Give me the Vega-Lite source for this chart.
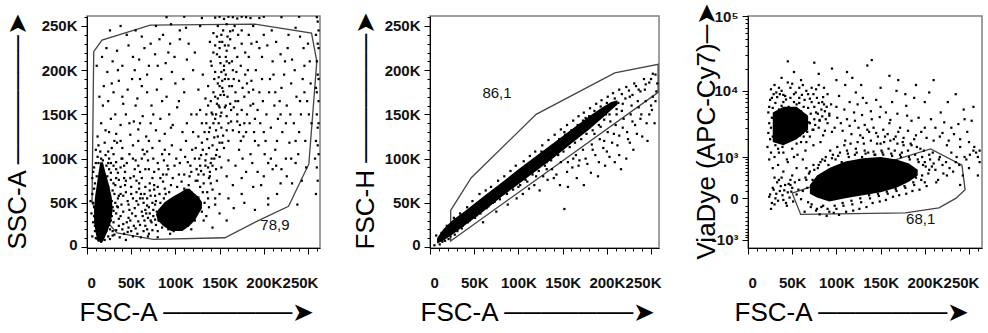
{
"$schema": "https://vega.github.io/schema/vega-lite/v6.json",
"padding": {"left": 3, "top": 1, "right": 0, "bottom": 0},
"spacing": 30,
"config": {
  "font": "Liberation Sans",
  "view": {"stroke": "#808080", "strokeWidth": 1.5},
  "axis": {"grid": false, "domainColor": "black", "domainWidth": 1, "tickColor": "black", "tickWidth": 1,
    "labelFont": "Liberation Sans", "labelFontSize": 15, "labelFontWeight": "bold", "labelColor": "#111",
    "titleFont": "Liberation Sans", "titleFontSize": 26, "titleFontWeight": "normal", "titleColor": "black",
    "labelOverlap": false, "labelFlush": false}
},
"hconcat": [
{
  "width": 233, "height": 232,
  "resolve": {"axis": {"x": "independent", "y": "independent"}},
  "layer": [
    {"data": {"values": [
      {"o":1,"x":7.6,"y":221},{"o":2,"x":17,"y":234},{"o":3,"x":71.6,"y":251},{"o":4,"x":190,"y":252},{"o":5,"x":254,"y":242},{"o":6,"x":260,"y":210},{"o":7,"x":251,"y":94},{"o":8,"x":228,"y":46},{"o":9,"x":192,"y":29},{"o":10,"x":156,"y":10.5},{"o":11,"x":75,"y":8.7},{"o":12,"x":34,"y":16},{"o":13,"x":11.3,"y":40.7},{"o":14,"x":5.7,"y":50},{"o":15,"x":7.6,"y":221}
    ]},
    "mark": {"type": "line", "color": "#444", "strokeWidth": 1.3, "clip": true},
    "encoding": {
      "x": {"field": "x", "type": "quantitative", "scale": {"domain": [0, 263.6], "nice": false, "zero": false},
        "axis": {"orient": "bottom", "title": "FSC-A ───────➤", "values": [0,50,100,150,200,250], "tickSize": 6,
          "labelExpr": "datum.value === 0 ? '0' : datum.value + 'K'",
          "labelOffset": {"condition": {"test": "datum.value === 250", "value": -8}, "value": 0},
          "labelAlign": {"condition": {"test": "datum.value === 0", "value": "left"}, "value": "center"},
          "labelPadding": 21, "titleX": -8, "titleY": 64, "titleAlign": "left", "titleBaseline": "middle", "titleAnchor": "start"}},
      "y": {"field": "y", "type": "quantitative", "scale": {"domain": [-1.1, 261.3], "nice": false, "zero": false},
        "axis": {"orient": "left", "title": "SSC-A ───────➤", "values": [0,50,100,150,200,250], "tickSize": 6,
          "labelExpr": "datum.value === 0 ? '0' : datum.value + 'K'",
          "labelOffset": {"condition": {"test": "datum.value === 0", "value": -3}, "value": 0},
          "labelPadding": 4, "titleX": -70, "titleY": 233, "titleAngle": 270, "titleAlign": "left", "titleBaseline": "middle", "titleAnchor": "start"}},
      "order": {"field": "o", "type": "quantitative"}
    }},
    {"data": {"values": [
      {"x":6,"y":12},{"x":7,"y":28},{"x":8,"y":45},{"x":6,"y":60},{"x":9,"y":72},{"x":7,"y":85},{"x":10,"y":95},{"x":12,"y":102},{"x":15,"y":108},{"x":18,"y":98},{"x":22,"y":92},{"x":25,"y":88},{"x":27,"y":76},{"x":29,"y":64},{"x":28,"y":52},{"x":30,"y":41},{"x":27,"y":30},{"x":26,"y":20},{"x":24,"y":12},{"x":20,"y":8},{"x":16,"y":6},{"x":12,"y":9},{"x":9,"y":18},{"x":11,"y":35},{"x":14,"y":50},{"x":19,"y":66},{"x":23,"y":80},{"x":21,"y":58},{"x":17,"y":42},{"x":13,"y":28},{"x":25,"y":100},{"x":30,"y":105},{"x":33,"y":96},{"x":35,"y":84},{"x":32,"y":70},{"x":36,"y":58},{"x":34,"y":46},{"x":38,"y":35},{"x":36,"y":24},{"x":31,"y":14},{"x":5,"y":38},{"x":4,"y":52},{"x":6,"y":78},{"x":8,"y":90},{"x":13,"y":115},{"x":20,"y":118},{"x":28,"y":112},{"x":40,"y":100},{"x":38,"y":90},{"x":42,"y":78},
      {"x":10,"y":10},{"x":14,"y":14},{"x":18,"y":12},{"x":22,"y":18},{"x":25,"y":25},{"x":28,"y":35},{"x":29,"y":45},{"x":26,"y":58},{"x":24,"y":68},{"x":20,"y":76},{"x":15,"y":85},{"x":11,"y":80},{"x":8,"y":66},{"x":7,"y":50},{"x":8,"y":35},{"x":9,"y":24},{"x":13,"y":95},{"x":17,"y":88},{"x":21,"y":104},{"x":24,"y":95},{"x":27,"y":84},{"x":30,"y":92},{"x":33,"y":78},{"x":31,"y":60},{"x":32,"y":50},{"x":33,"y":38},{"x":30,"y":28},{"x":29,"y":18},{"x":16,"y":100},{"x":10,"y":110},
      {"x":26,"y":9},{"x":29,"y":13},{"x":33,"y":19},{"x":37,"y":11},{"x":41,"y":26},{"x":44,"y":8},{"x":46,"y":17},{"x":49,"y":30},{"x":52,"y":12},{"x":55,"y":21},{"x":58,"y":29},{"x":61,"y":11},{"x":63,"y":35},{"x":66,"y":24},{"x":69,"y":12},{"x":71,"y":38},{"x":74,"y":19},{"x":77,"y":31},{"x":80,"y":11},{"x":82,"y":42},{"x":35,"y":55},{"x":38,"y":68},{"x":41,"y":58},{"x":44,"y":75},{"x":47,"y":48},{"x":50,"y":60},{"x":53,"y":80},{"x":56,"y":52},{"x":59,"y":66},{"x":62,"y":78},{"x":65,"y":60},{"x":68,"y":47},{"x":71,"y":64},{"x":74,"y":78},{"x":77,"y":58},{"x":80,"y":68},{"x":83,"y":50},{"x":86,"y":82},{"x":89,"y":60},{"x":30,"y":72},{"x":33,"y":88},{"x":36,"y":76},{"x":39,"y":100},{"x":27,"y":95},{"x":31,"y":120},{"x":24,"y":108},{"x":42,"y":92},{"x":48,"y":105},{"x":55,"y":98},{"x":62,"y":100},{"x":68,"y":108},{"x":75,"y":100},{"x":81,"y":88},{"x":87,"y":98},{"x":93,"y":105},{"x":99,"y":92},{"x":105,"y":95},{"x":111,"y":102},{"x":117,"y":92},{"x":123,"y":112},
      {"x":40,"y":20},{"x":45,"y":28},{"x":50,"y":18},{"x":55,"y":35},{"x":60,"y":25},{"x":48,"y":42},{"x":52,"y":55},{"x":58,"y":48},{"x":62,"y":40},{"x":65,"y":30},{"x":68,"y":20},{"x":70,"y":45},{"x":72,"y":58},{"x":75,"y":35},{"x":78,"y":25},{"x":44,"y":62},{"x":50,"y":68},{"x":56,"y":62},{"x":63,"y":55},{"x":66,"y":68},{"x":42,"y":15},{"x":47,"y":33},{"x":53,"y":24},{"x":57,"y":15},{"x":61,"y":60},{"x":70,"y":15},{"x":74,"y":50},{"x":79,"y":40},{"x":39,"y":48},{"x":46,"y":52},{"x":36,"y":32},{"x":41,"y":40},{"x":54,"y":44},{"x":64,"y":50},{"x":67,"y":38},{"x":73,"y":28},{"x":76,"y":65},{"x":59,"y":72},{"x":49,"y":78},{"x":43,"y":85},
      {"x":35,"y":45},{"x":38,"y":60},{"x":43,"y":70},{"x":47,"y":22},{"x":51,"y":38},{"x":56,"y":75},{"x":60,"y":55},{"x":64,"y":18},{"x":69,"y":33},{"x":71,"y":72},{"x":77,"y":48},{"x":81,"y":30},{"x":83,"y":78},{"x":87,"y":55},{"x":89,"y":25},{"x":93,"y":62},{"x":97,"y":78},{"x":99,"y":24},{"x":103,"y":58},{"x":107,"y":74},{"x":111,"y":28},{"x":115,"y":70},{"x":119,"y":36},{"x":123,"y":75},{"x":127,"y":48},{"x":131,"y":62},{"x":135,"y":35},{"x":137,"y":55},{"x":139,"y":80},{"x":142,"y":65},{"x":145,"y":48},{"x":132,"y":72},{"x":126,"y":82},{"x":116,"y":80},{"x":104,"y":82},{"x":92,"y":88},{"x":60,"y":85},{"x":54,"y":88},{"x":70,"y":88},
      {"x":72,"y":30},{"x":75,"y":42},{"x":78,"y":52},{"x":82,"y":60},{"x":85,"y":22},{"x":88,"y":66},{"x":92,"y":20},{"x":95,"y":70},{"x":98,"y":18},{"x":102,"y":68},{"x":106,"y":20},{"x":110,"y":66},{"x":114,"y":24},{"x":118,"y":62},{"x":122,"y":30},{"x":126,"y":56},{"x":130,"y":40},{"x":133,"y":50},{"x":128,"y":68},{"x":136,"y":62},{"x":84,"y":35},{"x":90,"y":45},{"x":96,"y":38},{"x":104,"y":42},{"x":112,"y":34},{"x":120,"y":46},{"x":100,"y":28},{"x":108,"y":52},{"x":116,"y":40},{"x":124,"y":38},{"x":80,"y":18},{"x":94,"y":15},{"x":118,"y":20},{"x":132,"y":30},{"x":138,"y":45},{"x":140,"y":72},{"x":86,"y":74},{"x":76,"y":70},{"x":68,"y":55},{"x":66,"y":42},
      {"x":142,"y":22},{"x":150,"y":38},{"x":158,"y":30},{"x":166,"y":44},{"x":178,"y":50},{"x":190,"y":42},{"x":205,"y":48},
      {"x":125,"y":75},{"x":132,"y":82},{"x":138,"y":78},{"x":128,"y":92},{"x":140,"y":95},{"x":146,"y":88},{"x":135,"y":105},{"x":150,"y":102},{"x":142,"y":115},{"x":155,"y":112},{"x":148,"y":125},{"x":160,"y":120},{"x":138,"y":130},{"x":152,"y":135},{"x":165,"y":132},{"x":145,"y":145},{"x":158,"y":148},{"x":170,"y":142},{"x":150,"y":158},{"x":162,"y":162},{"x":175,"y":155},{"x":140,"y":165},{"x":155,"y":172},{"x":168,"y":175},{"x":148,"y":185},{"x":160,"y":190},{"x":172,"y":188},{"x":145,"y":198},{"x":155,"y":205},{"x":165,"y":200},{"x":150,"y":215},{"x":158,"y":222},{"x":145,"y":228},{"x":162,"y":235},{"x":152,"y":240},{"x":170,"y":215},{"x":140,"y":210},{"x":178,"y":170},{"x":185,"y":160},{"x":180,"y":130},{"x":190,"y":120},{"x":172,"y":110},{"x":160,"y":98},{"x":118,"y":85},{"x":122,"y":100},{"x":130,"y":118},{"x":135,"y":140},{"x":128,"y":155},{"x":182,"y":200},{"x":175,"y":230},{"x":165,"y":245},{"x":143,"y":242},{"x":158,"y":252},{"x":190,"y":145},{"x":195,"y":175},{"x":200,"y":130},{"x":185,"y":105},{"x":168,"y":92},
      {"x":127,"y":100},{"x":131,"y":110},{"x":136,"y":122},{"x":139,"y":135},{"x":143,"y":140},{"x":146,"y":150},{"x":149,"y":160},{"x":151,"y":172},{"x":153,"y":188},{"x":155,"y":200},{"x":157,"y":215},{"x":160,"y":228},{"x":162,"y":244},{"x":164,"y":210},{"x":166,"y":190},{"x":168,"y":165},{"x":170,"y":150},{"x":172,"y":130},{"x":174,"y":120},{"x":176,"y":100},{"x":178,"y":140},{"x":181,"y":185},{"x":183,"y":215},{"x":186,"y":230},{"x":188,"y":178},{"x":144,"y":190},{"x":141,"y":205},{"x":139,"y":232},{"x":137,"y":160},{"x":135,"y":150},{"x":133,"y":130},{"x":130,"y":140},{"x":126,"y":125},{"x":124,"y":150},{"x":120,"y":130},{"x":167,"y":250},{"x":171,"y":240},{"x":175,"y":245},{"x":179,"y":220},{"x":150,"y":225},{"x":153,"y":232},{"x":147,"y":238},{"x":159,"y":238},{"x":163,"y":155},{"x":158,"y":132},{"x":154,"y":126},{"x":150,"y":118},{"x":146,"y":104},{"x":142,"y":92},{"x":137,"y":90},
      {"x":146,"y":132},{"x":149,"y":140},{"x":152,"y":152},{"x":148,"y":168},{"x":154,"y":176},{"x":150,"y":182},{"x":156,"y":190},{"x":152,"y":198},{"x":158,"y":210},{"x":151,"y":208},{"x":147,"y":218},{"x":156,"y":228},{"x":150,"y":232},{"x":154,"y":245},{"x":148,"y":250},{"x":143,"y":220},{"x":161,"y":182},{"x":145,"y":170},{"x":142,"y":150},{"x":157,"y":160},{"x":153,"y":118},{"x":147,"y":110},{"x":160,"y":140},{"x":144,"y":124},{"x":138,"y":112},{"x":134,"y":98},{"x":129,"y":86},{"x":141,"y":100},
      {"x":108,"y":130},{"x":113,"y":140},{"x":104,"y":165},{"x":109,"y":190},{"x":113,"y":212},{"x":122,"y":220},{"x":126,"y":178},{"x":131,"y":195},{"x":134,"y":168},{"x":137,"y":182},{"x":141,"y":152},{"x":143,"y":175},{"x":147,"y":162},{"x":149,"y":192},{"x":151,"y":148},{"x":153,"y":180},{"x":156,"y":158},{"x":157,"y":195},{"x":159,"y":170},{"x":161,"y":208},{"x":163,"y":142},{"x":164,"y":182},{"x":166,"y":158},{"x":167,"y":225},{"x":169,"y":198},{"x":171,"y":165},{"x":173,"y":138},{"x":174,"y":205},{"x":176,"y":180},{"x":177,"y":125},{"x":179,"y":195},{"x":181,"y":150},{"x":183,"y":175},{"x":184,"y":140},{"x":186,"y":188},{"x":188,"y":162},{"x":189,"y":130},{"x":191,"y":200},{"x":193,"y":155},{"x":194,"y":115},{"x":196,"y":140},{"x":198,"y":190},{"x":199,"y":165},{"x":201,"y":105},{"x":203,"y":150},{"x":206,"y":175},{"x":208,"y":135},{"x":211,"y":195},{"x":213,"y":110},{"x":216,"y":145},{"x":218,"y":165},{"x":221,"y":130},{"x":224,"y":210},{"x":226,"y":160},{"x":229,"y":118},{"x":231,"y":185},{"x":234,"y":140},{"x":237,"y":170},{"x":239,"y":105},{"x":242,"y":150},{"x":244,"y":190},{"x":247,"y":120},{"x":249,"y":165},{"x":252,"y":210},{"x":254,"y":140},{"x":248,"y":90},{"x":243,"y":75},{"x":236,"y":95},{"x":226,"y":80},{"x":219,"y":72},{"x":210,"y":88},{"x":197,"y":70},{"x":188,"y":68},{"x":180,"y":85},{"x":175,"y":78},{"x":165,"y":70},{"x":158,"y":80},{"x":152,"y":90},{"x":147,"y":75},{"x":144,"y":100},{"x":139,"y":85},{"x":134,"y":92},{"x":129,"y":104},{"x":124,"y":88},{"x":119,"y":110},{"x":114,"y":96},{"x":110,"y":82},{"x":150,"y":60},{"x":160,"y":55},{"x":145,"y":55},{"x":175,"y":60},
      {"x":183,"y":240},{"x":192,"y":232},{"x":198,"y":215},{"x":204,"y":228},{"x":209,"y":245},{"x":214,"y":232},{"x":219,"y":218},{"x":223,"y":195},{"x":227,"y":225},{"x":232,"y":212},{"x":236,"y":248},{"x":241,"y":238},{"x":246,"y":205},{"x":250,"y":230},{"x":253,"y":185},{"x":207,"y":190},{"x":213,"y":175},{"x":219,"y":150},{"x":225,"y":140},{"x":231,"y":100},{"x":236,"y":120},{"x":241,"y":165},{"x":246,"y":175},{"x":251,"y":150},{"x":187,"y":95},{"x":193,"y":85},{"x":202,"y":120},{"x":208,"y":100},{"x":214,"y":92},{"x":220,"y":88},
      {"x":12,"y":125},{"x":16,"y":140},{"x":21,"y":132},{"x":27,"y":145},{"x":33,"y":128},{"x":38,"y":138},{"x":44,"y":150},{"x":49,"y":127},{"x":53,"y":142},{"x":58,"y":133},{"x":63,"y":148},{"x":67,"y":125},{"x":72,"y":140},{"x":78,"y":132},{"x":83,"y":145},{"x":88,"y":128},{"x":93,"y":150},{"x":97,"y":138},
      {"x":14,"y":170},{"x":19,"y":182},{"x":24,"y":165},{"x":30,"y":175},{"x":36,"y":188},{"x":41,"y":162},{"x":46,"y":178},{"x":51,"y":190},{"x":57,"y":168},{"x":62,"y":182},{"x":68,"y":195},{"x":73,"y":160},{"x":79,"y":178},{"x":84,"y":190},{"x":90,"y":170},{"x":96,"y":198},
      {"x":11,"y":205},{"x":17,"y":215},{"x":23,"y":198},{"x":29,"y":210},{"x":34,"y":222},{"x":40,"y":205},{"x":47,"y":228},{"x":54,"y":200},{"x":59,"y":212},{"x":65,"y":225},{"x":70,"y":205},{"x":77,"y":218},{"x":82,"y":235},{"x":89,"y":208},{"x":94,"y":230},{"x":99,"y":215},
      {"x":26,"y":245},{"x":38,"y":250},{"x":55,"y":245},{"x":62,"y":238},{"x":78,"y":250},{"x":95,"y":252},{"x":105,"y":235},{"x":112,"y":248},
      {"x":45,"y":95},{"x":52,"y":100},{"x":58,"y":92},{"x":63,"y":110},{"x":69,"y":98},{"x":74,"y":112},{"x":80,"y":95},{"x":85,"y":105},{"x":91,"y":92},{"x":96,"y":115},{"x":101,"y":100},{"x":106,"y":110},{"x":52,"y":115},{"x":40,"y":112},{"x":34,"y":118},{"x":58,"y":120},{"x":82,"y":120},{"x":66,"y":88},{"x":76,"y":85},{"x":90,"y":82},
      {"x":25,"y":130},{"x":32,"y":150},{"x":40,"y":170},{"x":35,"y":200},{"x":22,"y":225},{"x":48,"y":140},{"x":55,"y":160},{"x":60,"y":190},{"x":52,"y":215},{"x":45,"y":240},{"x":70,"y":120},{"x":75,"y":150},{"x":68,"y":175},{"x":80,"y":205},{"x":72,"y":230},{"x":88,"y":110},{"x":95,"y":135},{"x":85,"y":165},{"x":100,"y":185},{"x":92,"y":220},{"x":105,"y":245},{"x":112,"y":120},{"x":118,"y":150},{"x":110,"y":175},{"x":120,"y":200},{"x":115,"y":230},{"x":128,"y":250},{"x":200,"y":240},{"x":210,"y":210},{"x":220,"y":180},{"x":230,"y":150},{"x":215,"y":120},{"x":205,"y":95},{"x":225,"y":100},{"x":240,"y":130},{"x":235,"y":200},{"x":245,"y":225},{"x":212,"y":160},{"x":228,"y":240},{"x":195,"y":225},{"x":188,"y":250},{"x":60,"y":140},{"x":38,"y":120},{"x":18,"y":160},{"x":28,"y":185},{"x":65,"y":105},{"x":102,"y":158},{"x":86,"y":240},{"x":232,"y":72},{"x":215,"y":60},{"x":238,"y":48},{"x":200,"y":80},{"x":205,"y":55},
      {"x":259,"y":60},{"x":261,"y":75},{"x":260,"y":90},{"x":262,"y":105},{"x":259,"y":120},{"x":261,"y":135},{"x":260,"y":150},{"x":262,"y":165},{"x":259,"y":180},{"x":261,"y":195},{"x":260,"y":210},{"x":262,"y":225},{"x":259,"y":240},{"x":261,"y":255},{"x":260,"y":260},{"x":258,"y":100},{"x":262,"y":190},{"x":261,"y":230},{"x":262,"y":140},{"x":260,"y":175},{"x":262,"y":245},{"x":261,"y":115},
      {"x":90,"y":260},{"x":110,"y":260.5},{"x":130,"y":259},{"x":150,"y":260.5},{"x":165,"y":260},{"x":175,"y":260.5},{"x":185,"y":259},{"x":200,"y":260.5},{"x":220,"y":260},{"x":240,"y":260.5},{"x":155,"y":258},{"x":170,"y":258.5},{"x":145,"y":259.5},{"x":160,"y":260.5},{"x":180,"y":260},{"x":195,"y":259}
    ]},
    "mark": {"type": "square", "size": 5, "color": "black", "opacity": 1, "clip": true},
    "encoding": {
      "x": {"field": "x", "type": "quantitative", "axis": {"orient": "bottom", "values": [10,20,30,40,60,70,80,90,110,120,130,140,160,170,180,190,210,220,230,240,260], "tickSize": 3, "labels": false, "domain": false, "title": null}},
      "y": {"field": "y", "type": "quantitative", "axis": {"orient": "left", "values": [10,20,30,40,60,70,80,90,110,120,130,140,160,170,180,190,210,220,230,240,260], "tickSize": 3, "labels": false, "domain": false, "title": null}}}},
    {"data": {"values": [
      {"g":1,"y":6,"a":12,"b":18},{"g":1,"y":15,"a":10,"b":22},{"g":1,"y":28,"a":8,"b":27},{"g":1,"y":42,"a":8,"b":29},{"g":1,"y":56,"a":9,"b":28},{"g":1,"y":70,"a":11,"b":25},{"g":1,"y":84,"a":13,"b":21},{"g":1,"y":96,"a":15,"b":18},
      {"g":2,"y":18,"a":95,"b":108},{"g":2,"y":24,"a":86,"b":116},{"g":2,"y":30,"a":80,"b":122},{"g":2,"y":37,"a":78,"b":126},{"g":2,"y":44,"a":82,"b":130},{"g":2,"y":51,"a":88,"b":130},{"g":2,"y":57,"a":97,"b":126},{"g":2,"y":62,"a":106,"b":120},{"g":2,"y":66,"a":112,"b":116}
    ]},
    "mark": {"type": "area", "orient": "horizontal", "color": "black", "opacity": 1, "clip": true},
    "encoding": {"y": {"field": "y", "type": "quantitative", "axis": null}, "x": {"field": "a", "type": "quantitative", "axis": null}, "x2": {"field": "b"}, "detail": {"field": "g"}}},
    {"data": {"values": [{"x":212.6,"y":25.4,"t":"78,9"}]},
    "mark": {"type": "text", "fontSize": 15, "font": "Liberation Sans", "color": "#111"},
    "encoding": {"x": {"field": "x", "type": "quantitative", "axis": null}, "y": {"field": "y", "type": "quantitative", "axis": null}, "text": {"field": "t"}}}
  ]
},
{
  "width": 229, "height": 232,
  "resolve": {"axis": {"x": "independent", "y": "independent"}},
  "layer": [
    {"data": {"values": [
      {"o":1,"x":23.4,"y":41.5},{"o":2,"x":46.7,"y":78.4},{"o":3,"x":120,"y":150},{"o":4,"x":209,"y":197},{"o":5,"x":258,"y":206.6},{"o":6,"x":258,"y":175},{"o":7,"x":23.4,"y":6.8},{"o":8,"x":23.4,"y":41.5}
    ]},
    "mark": {"type": "line", "color": "#444", "strokeWidth": 1.3, "clip": true},
    "encoding": {
      "x": {"field": "x", "type": "quantitative", "scale": {"domain": [0, 259], "nice": false, "zero": false},
        "axis": {"orient": "bottom", "title": "FSC-A ───────➤", "values": [0,50,100,150,200,250], "tickSize": 6,
          "labelExpr": "datum.value === 0 ? '0' : datum.value + 'K'",
          "labelOffset": {"condition": {"test": "datum.value === 250", "value": -8}, "value": 0},
          "labelAlign": {"condition": {"test": "datum.value === 0", "value": "left"}, "value": "center"},
          "labelPadding": 21, "titleX": -10, "titleY": 64, "titleAlign": "left", "titleBaseline": "middle", "titleAnchor": "start"}},
      "y": {"field": "y", "type": "quantitative", "scale": {"domain": [-1.1, 261.3], "nice": false, "zero": false},
        "axis": {"orient": "left", "title": "FSC-H ───────➤", "values": [0,50,100,150,200,250], "tickSize": 6,
          "labelExpr": "datum.value === 0 ? '0' : datum.value + 'K'",
          "labelOffset": {"condition": {"test": "datum.value === 0", "value": -3}, "value": 0},
          "labelPadding": 4, "titleX": -65, "titleY": 233, "titleAngle": 270, "titleAlign": "left", "titleBaseline": "middle", "titleAnchor": "start"}},
      "order": {"field": "o", "type": "quantitative"}
    }},
    {"data": {"values": [
      {"x":5,"y":2},{"x":7,"y":13},{"x":11,"y":3},{"x":13,"y":16},{"x":17,"y":7},{"x":19,"y":24},{"x":23,"y":12},{"x":27,"y":33},{"x":31,"y":18},{"x":34,"y":38},{"x":37,"y":24},{"x":42,"y":45},{"x":45,"y":30},{"x":48,"y":52},{"x":53,"y":36},{"x":56,"y":60},{"x":58,"y":41},{"x":63,"y":64},{"x":66,"y":46},{"x":69,"y":68},{"x":73,"y":51},{"x":77,"y":75},{"x":79,"y":54},{"x":84,"y":80},{"x":87,"y":60},{"x":91,"y":86},{"x":94,"y":65},{"x":97,"y":92},{"x":102,"y":70},{"x":106,"y":97},{"x":108,"y":76},{"x":113,"y":103},{"x":116,"y":82},{"x":119,"y":108},{"x":123,"y":86},{"x":127,"y":115},{"x":130,"y":92},{"x":134,"y":121},{"x":137,"y":98},{"x":141,"y":127},{"x":145,"y":104},{"x":148,"y":133},{"x":151,"y":108},{"x":155,"y":138},{"x":158,"y":113},{"x":162,"y":143},{"x":164,"y":118},{"x":168,"y":148},{"x":171,"y":122},{"x":174,"y":152},{"x":177,"y":128},{"x":181,"y":157},{"x":184,"y":132},{"x":188,"y":162},{"x":191,"y":138},{"x":194,"y":166},{"x":197,"y":144},{"x":201,"y":170},{"x":203,"y":150},{"x":207,"y":174},{"x":211,"y":156},{"x":214,"y":178},{"x":218,"y":162},{"x":222,"y":181},{"x":226,"y":170},{"x":231,"y":185},{"x":236,"y":178},{"x":242,"y":190},{"x":248,"y":186},{"x":252,"y":196},{"x":44,"y":39},{"x":71,"y":60},{"x":99,"y":84},{"x":126,"y":108},{"x":152,"y":130},{"x":176,"y":146},{"x":30,"y":20},{"x":62,"y":45},{"x":96,"y":72},{"x":132,"y":96},{"x":166,"y":124},{"x":199,"y":150},
      {"x":10,"y":8},{"x":14,"y":6},{"x":18,"y":16},{"x":21,"y":9},{"x":24,"y":22},{"x":28,"y":14},{"x":32,"y":28},{"x":36,"y":21},{"x":39,"y":35},{"x":43,"y":28},{"x":47,"y":40},{"x":51,"y":33},{"x":54,"y":47},{"x":57,"y":38},{"x":61,"y":53},{"x":64,"y":44},{"x":67,"y":58},{"x":71,"y":50},{"x":74,"y":63},{"x":78,"y":56},{"x":81,"y":68},{"x":86,"y":62},{"x":89,"y":75},{"x":93,"y":68},{"x":96,"y":80},{"x":100,"y":73},{"x":104,"y":86},{"x":107,"y":80},{"x":111,"y":92},{"x":114,"y":85},{"x":117,"y":98},{"x":121,"y":92},{"x":124,"y":104},{"x":129,"y":98},{"x":133,"y":110},{"x":136,"y":104},{"x":139,"y":115},{"x":143,"y":110},{"x":146,"y":122},{"x":150,"y":115},{"x":153,"y":127},{"x":157,"y":121},{"x":160,"y":132},{"x":163,"y":126},{"x":167,"y":138},{"x":170,"y":131},{"x":173,"y":143},{"x":176,"y":137},{"x":180,"y":148},{"x":183,"y":143},{"x":186,"y":154},{"x":190,"y":149},{"x":193,"y":159},{"x":196,"y":153},{"x":200,"y":163},{"x":204,"y":158},{"x":209,"y":168},{"x":213,"y":163},{"x":217,"y":173},{"x":221,"y":168},{"x":225,"y":177},{"x":229,"y":172},{"x":233,"y":182},{"x":238,"y":176},{"x":244,"y":184},{"x":250,"y":190},{"x":255,"y":195},
      {"x":60,"y":28},{"x":75,"y":40},{"x":88,"y":48},{"x":98,"y":55},{"x":105,"y":60},{"x":112,"y":66},{"x":118,"y":70},{"x":124,"y":64},{"x":128,"y":80},{"x":133,"y":76},{"x":138,"y":88},{"x":143,"y":82},{"x":147,"y":70},{"x":152,"y":43},{"x":156,"y":96},{"x":161,"y":90},{"x":165,"y":104},{"x":169,"y":98},{"x":173,"y":110},{"x":178,"y":94},{"x":183,"y":116},{"x":187,"y":104},{"x":192,"y":122},{"x":196,"y":112},{"x":201,"y":130},{"x":206,"y":118},{"x":210,"y":138},{"x":214,"y":126},{"x":219,"y":145},{"x":223,"y":130},{"x":227,"y":150},{"x":232,"y":138},{"x":236,"y":158},{"x":240,"y":125},{"x":244,"y":165},{"x":248,"y":150},{"x":252,"y":170},{"x":256,"y":176},{"x":230,"y":110},{"x":222,"y":100},{"x":246,"y":120},{"x":254,"y":140},{"x":214,"y":104},{"x":198,"y":92},{"x":182,"y":84},{"x":166,"y":78},{"x":250,"y":160},{"x":238,"y":145},{"x":226,"y":118},{"x":209,"y":96},{"x":190,"y":80},{"x":257,"y":185},{"x":243,"y":178},{"x":235,"y":165},{"x":174,"y":70},{"x":156,"y":68},{"x":200,"y":108},{"x":216,"y":88},
      {"x":132,"y":88},{"x":140,"y":78},{"x":148,"y":96},{"x":155,"y":85},{"x":162,"y":100},{"x":168,"y":92},{"x":176,"y":100},{"x":184,"y":110},{"x":191,"y":96},{"x":197,"y":120},{"x":203,"y":102},{"x":208,"y":128},{"x":212,"y":115},{"x":218,"y":135},{"x":224,"y":122},{"x":229,"y":142},{"x":234,"y":128},{"x":239,"y":150},{"x":245,"y":140},{"x":251,"y":155},{"x":255,"y":165},{"x":186,"y":128},{"x":193,"y":136},{"x":204,"y":142},{"x":211,"y":150},{"x":217,"y":154},{"x":228,"y":160},{"x":120,"y":80},{"x":110,"y":74},{"x":100,"y":68}
    ]},
    "mark": {"type": "square", "size": 5, "color": "black", "opacity": 1, "clip": true},
    "encoding": {
      "x": {"field": "x", "type": "quantitative", "axis": {"orient": "bottom", "values": [10,20,30,40,60,70,80,90,110,120,130,140,160,170,180,190,210,220,230,240], "tickSize": 3, "labels": false, "domain": false, "title": null}},
      "y": {"field": "y", "type": "quantitative", "axis": {"orient": "left", "values": [10,20,30,40,60,70,80,90,110,120,130,140,160,170,180,190,210,220,230,240,260], "tickSize": 3, "labels": false, "domain": false, "title": null}}}},
    {"data": {"values": [
      {"x":8,"a":4,"b":10},{"x":15,"a":7,"b":20},{"x":25,"a":14,"b":30},{"x":40,"a":25,"b":41},{"x":60,"a":40,"b":57},{"x":80,"a":56,"b":72},{"x":100,"a":71,"b":88},{"x":120,"a":86,"b":103},{"x":140,"a":101,"b":118},{"x":160,"a":117,"b":133},{"x":180,"a":133,"b":148},{"x":195,"a":146,"b":158},{"x":205,"a":155,"b":164},{"x":212,"a":161,"b":166}
    ]},
    "mark": {"type": "area", "color": "black", "opacity": 1, "clip": true},
    "encoding": {"x": {"field": "x", "type": "quantitative", "axis": null}, "y": {"field": "a", "type": "quantitative", "axis": null}, "y2": {"field": "b"}}},
    {"data": {"values": [{"x":75.8,"y":174.7,"t":"86,1"}]},
    "mark": {"type": "text", "fontSize": 15, "font": "Liberation Sans", "color": "#111"},
    "encoding": {"x": {"field": "x", "type": "quantitative", "axis": null}, "y": {"field": "y", "type": "quantitative", "axis": null}, "text": {"field": "t"}}}
  ]
},
{
  "width": 234, "height": 232,
  "resolve": {"axis": {"x": "independent", "y": "independent"}},
  "layer": [
    {"data": {"values": [
      {"o":1,"x":50,"y":68},{"o":2,"x":59.6,"y":-250},{"o":3,"x":178,"y":-220},{"o":4,"x":216,"y":-134},{"o":5,"x":235,"y":0},{"o":6,"x":245.6,"y":118},{"o":7,"x":242,"y":693},{"o":8,"x":206.6,"y":1393},{"o":9,"x":110.5,"y":411},{"o":10,"x":50,"y":68}
    ]},
    "mark": {"type": "line", "color": "#444", "strokeWidth": 1.3, "clip": true},
    "encoding": {
      "x": {"field": "x", "type": "quantitative", "scale": {"domain": [0, 264.7], "nice": false, "zero": false},
        "axis": {"orient": "bottom", "title": "FSC-A ───────➤", "values": [0,50,100,150,200,250], "tickSize": 6,
          "labelExpr": "datum.value === 0 ? '0' : datum.value + 'K'",
          "labelOffset": {"condition": {"test": "datum.value === 250", "value": -8}, "value": 0},
          "labelAlign": {"condition": {"test": "datum.value === 0", "value": "left"}, "value": "center"},
          "labelPadding": 21, "titleX": -14, "titleY": 64, "titleAlign": "left", "titleBaseline": "middle", "titleAnchor": "start"}},
      "y": {"field": "y", "type": "quantitative", "scale": {"type": "symlog", "constant": 400, "domain": [-1400, 100000], "nice": false, "zero": false},
        "axis": {"orient": "left", "title": "ViaDye (APC-Cy7)─➤", "values": [-1000, 0, 1000, 10000, 100000], "tickSize": 6,
          "labelExpr": "datum.value === 100000 ? '10⁵' : datum.value === 10000 ? '10⁴' : datum.value === 1000 ? '10³' : datum.value === 0 ? '0' : '-10³'",
          "labelPadding": 4, "titleX": -42, "titleY": 243, "titleAngle": 270, "titleAlign": "left", "titleBaseline": "middle", "titleAnchor": "start"}},
      "order": {"field": "o", "type": "quantitative"}
    }},
    {"data": {"values": [
      {"x":62,"y":100},{"x":65,"y":350},{"x":68,"y":-50},{"x":70,"y":500},{"x":74,"y":700},{"x":78,"y":-150},{"x":82,"y":800},{"x":85,"y":-100},{"x":88,"y":1000},{"x":92,"y":-200},{"x":96,"y":1100},{"x":100,"y":-150},{"x":104,"y":1200},{"x":108,"y":-100},{"x":112,"y":1300},{"x":118,"y":-80},{"x":122,"y":1400},{"x":128,"y":-50},{"x":132,"y":1300},{"x":138,"y":0},{"x":142,"y":1250},{"x":148,"y":30},{"x":152,"y":1200},{"x":158,"y":60},{"x":162,"y":1150},{"x":168,"y":100},{"x":172,"y":1100},{"x":178,"y":150},{"x":182,"y":1000},{"x":188,"y":200},{"x":192,"y":900},{"x":196,"y":300},{"x":200,"y":800},{"x":204,"y":450},{"x":208,"y":650},{"x":212,"y":550},{"x":216,"y":900},{"x":220,"y":700},{"x":225,"y":400},{"x":230,"y":1200},{"x":235,"y":800},{"x":240,"y":1500},{"x":245,"y":1000},{"x":250,"y":1800},{"x":255,"y":1300},{"x":215,"y":300},{"x":205,"y":1100},{"x":195,"y":1400},{"x":185,"y":1600},{"x":175,"y":1800},{"x":165,"y":2000},{"x":155,"y":2200},{"x":145,"y":2500},{"x":135,"y":2800},{"x":125,"y":3000},{"x":115,"y":3200},{"x":105,"y":3500},{"x":95,"y":2600},{"x":85,"y":2300},{"x":110,"y":1900},{"x":130,"y":2100},{"x":150,"y":1700},{"x":170,"y":2600},{"x":190,"y":2300},{"x":210,"y":1900},{"x":140,"y":4000},{"x":160,"y":3500},{"x":120,"y":5000},{"x":100,"y":6000},{"x":130,"y":8000},{"x":90,"y":9000},{"x":110,"y":12000},{"x":150,"y":6000},{"x":180,"y":4500},{"x":200,"y":3000},{"x":220,"y":2500},{"x":240,"y":2000},{"x":178,"y":9000},{"x":200,"y":7000},{"x":235,"y":9000},{"x":255,"y":6000},{"x":210,"y":14000},{"x":118,"y":15000},{"x":95,"y":20000},{"x":80,"y":17000},{"x":135,"y":22000},{"x":45,"y":25000},{"x":60,"y":14000},{"x":150,"y":11000},
      {"x":66,"y":300},{"x":69,"y":450},{"x":72,"y":-80},{"x":75,"y":550},{"x":77,"y":-180},{"x":80,"y":700},{"x":83,"y":-120},{"x":87,"y":850},{"x":90,"y":-150},{"x":95,"y":950},{"x":98,"y":-100},{"x":102,"y":1050},{"x":107,"y":-60},{"x":113,"y":1150},{"x":117,"y":-30},{"x":123,"y":1200},{"x":127,"y":0},{"x":133,"y":1150},{"x":137,"y":40},{"x":143,"y":1100},{"x":147,"y":60},{"x":153,"y":1100},{"x":157,"y":90},{"x":163,"y":1050},{"x":167,"y":130},{"x":173,"y":1000},{"x":177,"y":180},{"x":183,"y":900},{"x":187,"y":250},{"x":193,"y":800},{"x":197,"y":400},{"x":201,"y":650},{"x":205,"y":550},{"x":190,"y":350},{"x":198,"y":700},{"x":85,"y":380},{"x":88,"y":120},{"x":180,"y":600},{"x":200,"y":250},{"x":210,"y":750},
      {"x":64,"y":-200},{"x":67,"y":150},{"x":71,"y":-120},{"x":73,"y":300},{"x":76,"y":50},{"x":79,"y":600},{"x":81,"y":-250},{"x":84,"y":900},{"x":86,"y":200},{"x":89,"y":-280},{"x":91,"y":700},{"x":93,"y":1300},{"x":97,"y":-220},{"x":99,"y":900},{"x":101,"y":1500},{"x":103,"y":-260},{"x":106,"y":800},{"x":109,"y":1600},{"x":111,"y":-200},{"x":114,"y":1000},{"x":116,"y":1700},{"x":119,"y":-180},{"x":121,"y":1100},{"x":124,"y":1800},{"x":126,"y":-150},{"x":129,"y":1000},{"x":131,"y":1700},{"x":134,"y":-120},{"x":136,"y":1200},{"x":139,"y":1900},{"x":141,"y":-60},{"x":144,"y":1100},{"x":146,"y":1700},{"x":149,"y":-40},{"x":151,"y":1300},{"x":154,"y":1800},{"x":156,"y":-20},{"x":159,"y":1400},{"x":161,"y":1900},{"x":164,"y":20},{"x":166,"y":1300},{"x":169,"y":1700},{"x":171,"y":40},{"x":174,"y":1200},{"x":176,"y":1600},{"x":179,"y":60},{"x":181,"y":1300},{"x":184,"y":1700},{"x":186,"y":100},{"x":189,"y":1100},{"x":191,"y":1500},{"x":194,"y":120},{"x":197,"y":1000},{"x":199,"y":1300},{"x":202,"y":180},{"x":206,"y":900},{"x":209,"y":1200},{"x":213,"y":250},{"x":217,"y":1000},{"x":221,"y":450},{"x":224,"y":800},{"x":228,"y":600},{"x":232,"y":500},{"x":236,"y":1000},{"x":239,"y":700},{"x":243,"y":400},{"x":247,"y":900},{"x":251,"y":1100},{"x":256,"y":1500},{"x":260,"y":1000},{"x":262,"y":1300},
      {"x":62,"y":2500},{"x":66,"y":1800},{"x":70,"y":3500},{"x":74,"y":2800},{"x":77,"y":5000},{"x":81,"y":3800},{"x":84,"y":7000},{"x":87,"y":2700},{"x":92,"y":4500},{"x":94,"y":6500},{"x":98,"y":3000},{"x":101,"y":4200},{"x":103,"y":8500},{"x":107,"y":2700},{"x":109,"y":5500},{"x":112,"y":4000},{"x":115,"y":7000},{"x":117,"y":2400},{"x":121,"y":3800},{"x":124,"y":6500},{"x":127,"y":2300},{"x":129,"y":4600},{"x":132,"y":3300},{"x":134,"y":6800},{"x":137,"y":2600},{"x":139,"y":5200},{"x":142,"y":3000},{"x":145,"y":7500},{"x":147,"y":2200},{"x":149,"y":4300},{"x":153,"y":2800},{"x":156,"y":5000},{"x":158,"y":2400},{"x":161,"y":3900},{"x":163,"y":7000},{"x":167,"y":2200},{"x":169,"y":4800},{"x":172,"y":3000},{"x":176,"y":2100},{"x":179,"y":6200},{"x":181,"y":2700},{"x":185,"y":3800},{"x":188,"y":2000},{"x":193,"y":4200},{"x":196,"y":2600},{"x":202,"y":2100},{"x":207,"y":4000},{"x":212,"y":3000},{"x":217,"y":2200},{"x":222,"y":3600},{"x":227,"y":1900},{"x":233,"y":2400},{"x":238,"y":3400},{"x":248,"y":2600},{"x":253,"y":3800},{"x":226,"y":7000},{"x":244,"y":5500},{"x":188,"y":8000},{"x":168,"y":10000},{"x":122,"y":9500},{"x":100,"y":14000},{"x":86,"y":11000},{"x":112,"y":18000},{"x":75,"y":24000},{"x":52,"y":18000},{"x":38,"y":15000},
      {"x":25,"y":50},{"x":28,"y":150},{"x":30,"y":-80},{"x":33,"y":250},{"x":36,"y":100},{"x":40,"y":-20},{"x":42,"y":200},{"x":45,"y":80},{"x":48,"y":300},{"x":26,"y":-150},{"x":31,"y":0},{"x":38,"y":350},{"x":44,"y":-100},{"x":50,"y":150},{"x":55,"y":50},
      {"x":24,"y":20},{"x":27,"y":-60},{"x":29,"y":120},{"x":32,"y":60},{"x":34,"y":-30},{"x":37,"y":180},{"x":39,"y":40},{"x":41,"y":110},{"x":43,"y":-60},{"x":46,"y":220},{"x":47,"y":10},{"x":49,"y":90},{"x":51,"y":-40},{"x":53,"y":250},{"x":57,"y":120},{"x":60,"y":-10},{"x":35,"y":300},{"x":30,"y":350},
      {"x":24,"y":900},{"x":26,"y":3000},{"x":23,"y":5000},{"x":27,"y":8000},{"x":30,"y":1000},{"x":32,"y":9500},{"x":35,"y":2000},{"x":38,"y":10000},{"x":40,"y":1200},{"x":42,"y":8500},{"x":45,"y":3500},{"x":48,"y":11000},{"x":50,"y":1400},{"x":52,"y":9000},{"x":55,"y":2500},{"x":58,"y":8000},{"x":60,"y":1800},{"x":63,"y":6000},{"x":66,"y":3000},{"x":68,"y":9000},{"x":70,"y":2200},{"x":72,"y":7000},{"x":75,"y":4000},{"x":78,"y":8000},{"x":80,"y":3000},{"x":83,"y":5500},{"x":86,"y":6500},{"x":88,"y":4000},{"x":90,"y":3500},{"x":28,"y":600},{"x":34,"y":700},{"x":44,"y":900},{"x":56,"y":1100},{"x":65,"y":1300},{"x":74,"y":1600},{"x":82,"y":1800},{"x":62,"y":12000},{"x":72,"y":11000},{"x":45,"y":13000},{"x":30,"y":12000},{"x":40,"y":7000},{"x":55,"y":6500},{"x":25,"y":2000},{"x":35,"y":4500},{"x":60,"y":4000},
      {"x":22,"y":1500},{"x":23,"y":2500},{"x":24,"y":3500},{"x":24,"y":6000},{"x":25,"y":7500},{"x":26,"y":1200},{"x":27,"y":4200},{"x":28,"y":2200},{"x":28,"y":5800},{"x":29,"y":9000},{"x":30,"y":3000},{"x":31,"y":1600},{"x":31,"y":6800},{"x":32,"y":4000},{"x":33,"y":2600},{"x":33,"y":8200},{"x":34,"y":1400},{"x":35,"y":5500},{"x":36,"y":3200},{"x":36,"y":9000},{"x":37,"y":2100},{"x":38,"y":6200},{"x":39,"y":4300},{"x":39,"y":1500},{"x":40,"y":8800},{"x":41,"y":2800},{"x":42,"y":5000},{"x":43,"y":3700},{"x":43,"y":7600},{"x":44,"y":1900},{"x":46,"y":6000},{"x":46,"y":2400},{"x":47,"y":4600},{"x":48,"y":8000},{"x":49,"y":3000},{"x":50,"y":5400},{"x":51,"y":2100},{"x":52,"y":7000},{"x":53,"y":3800},{"x":54,"y":9500},{"x":55,"y":1700},{"x":56,"y":4800},{"x":57,"y":3000},{"x":58,"y":6800},{"x":59,"y":2300},{"x":60,"y":5200},{"x":61,"y":8800},{"x":62,"y":3500},{"x":63,"y":2200},{"x":64,"y":7500},{"x":65,"y":4500},{"x":66,"y":10000},{"x":67,"y":2600},{"x":68,"y":5800},{"x":69,"y":3600},{"x":70,"y":7800},{"x":71,"y":4800},{"x":73,"y":2800},{"x":74,"y":9000},{"x":75,"y":6000},{"x":76,"y":3300},{"x":77,"y":10500},{"x":79,"y":4800},{"x":80,"y":6800},{"x":81,"y":3900},{"x":84,"y":4400},{"x":85,"y":8200},{"x":87,"y":5200},{"x":89,"y":6000},{"x":92,"y":4800},{"x":26,"y":10500},{"x":35,"y":11000},{"x":50,"y":12500},{"x":58,"y":11000},{"x":80,"y":12000},
      {"x":40,"y":500},{"x":45,"y":800},{"x":50,"y":400},{"x":55,"y":600},{"x":58,"y":300},{"x":62,"y":900},{"x":35,"y":1200},{"x":52,"y":1000},{"x":48,"y":200},{"x":66,"y":600},
      {"x":230,"y":3000},{"x":245,"y":4000},{"x":258,"y":1200},{"x":262,"y":800},{"x":260,"y":400},{"x":250,"y":600},{"x":240,"y":200},{"x":225,"y":1600},{"x":218,"y":5000},{"x":205,"y":9500},{"x":190,"y":12000},{"x":170,"y":14000},{"x":160,"y":16000},{"x":140,"y":26000},{"x":128,"y":12000}
    ]},
    "mark": {"type": "square", "size": 5, "color": "black", "opacity": 1, "clip": true},
    "encoding": {
      "x": {"field": "x", "type": "quantitative", "axis": {"orient": "bottom", "values": [10,20,30,40,60,70,80,90,110,120,130,140,160,170,180,190,210,220,230,240,260], "tickSize": 3, "labels": false, "domain": false, "title": null}},
      "y": {"field": "y", "type": "quantitative", "axis": {"orient": "left", "values": [-900,-800,-700,-600,-500,-400,-300,-200,-100,100,200,300,400,500,600,700,800,900,2000,3000,4000,5000,6000,7000,8000,9000,20000,30000,40000,50000,60000,70000,80000,90000], "tickSize": 3, "labels": false, "domain": false, "title": null}}}},
    {"data": {"values": [
      {"g":1,"x":70,"a":60,"b":200},{"g":1,"x":78,"a":10,"b":400},{"g":1,"x":92,"a":-40,"b":600},{"g":1,"x":110,"a":0,"b":820},{"g":1,"x":130,"a":40,"b":950},{"g":1,"x":150,"a":80,"b":1000},{"g":1,"x":168,"a":150,"b":900},{"g":1,"x":182,"a":260,"b":750},{"g":1,"x":192,"a":400,"b":550},
      {"g":2,"x":28,"a":1800,"b":5000},{"g":2,"x":40,"a":1600,"b":6000},{"g":2,"x":55,"a":2000,"b":6000},{"g":2,"x":68,"a":2800,"b":4500}
    ]},
    "mark": {"type": "area", "color": "black", "opacity": 1, "clip": true},
    "encoding": {"x": {"field": "x", "type": "quantitative", "axis": null}, "y": {"field": "a", "type": "quantitative", "axis": null}, "y2": {"field": "b"}, "detail": {"field": "g"}}},
    {"data": {"values": [{"x":195.3,"y":-354,"t":"68,1"}]},
    "mark": {"type": "text", "fontSize": 15, "font": "Liberation Sans", "color": "#111"},
    "encoding": {"x": {"field": "x", "type": "quantitative", "axis": null}, "y": {"field": "y", "type": "quantitative", "axis": null}, "text": {"field": "t"}}}
  ]
}
]
}
